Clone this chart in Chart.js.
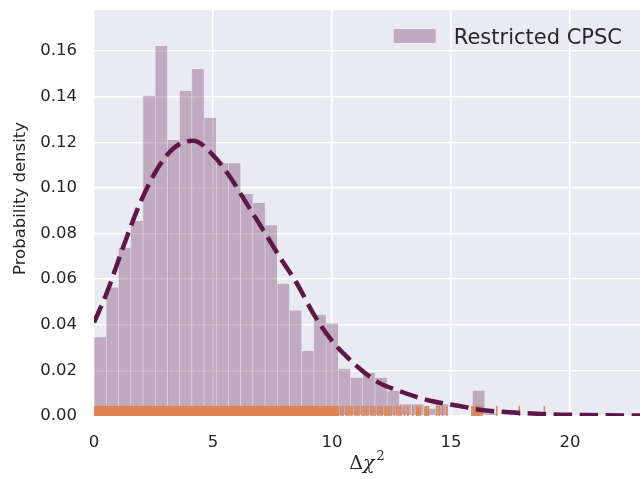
<!DOCTYPE html>
<html>
<head>
<meta charset="utf-8">
<script src="https://cdn.jsdelivr.net/npm/chart.js@4.4.1/dist/chart.umd.min.js"></script>
<style>
  html, body { margin: 0; padding: 0; background: #fff; }
  #wrap { width: 644px; height: 479px; }
</style>
</head>
<body>
<div id="wrap"><canvas id="chart" width="644" height="479"></canvas></div>
<script>
// histogram of delta chi^2 (density), bins start at 0
const binWidth = 0.5128;
const histDensity = [
  0.0345, 0.0563, 0.0738, 0.0855, 0.1404, 0.1622, 0.1210, 0.1425, 0.1521, 0.1306,
  0.1108, 0.1108, 0.0973, 0.0934, 0.0836, 0.0580, 0.0463, 0.0285, 0.0444, 0.0405,
  0.0207, 0.0168, 0.0190, 0.0168, 0.0111, 0.0051, 0.0051, 0.0032, 0.0051, 0,
  0, 0.0111, 0.0012, 0, 0.0012, 0, 0.0012, 0, 0, 0,
  0, 0, 0, 0, 0
];

// kde curve
const kdeX = [0, 0.53, 1.23, 1.93, 2.63, 3.33, 4.17, 5.0, 5.71, 6.41, 7.11, 7.8, 8.52, 9.21, 9.92,
  10.62, 11.32, 12.02, 12.72, 13.42, 14.12, 14.82, 15.66, 15.94, 17.06, 18.18, 19.23, 20.35, 21.5, 22.94];
const kdeY = [0.041, 0.0538, 0.0742, 0.0932, 0.1078, 0.1173, 0.1207, 0.1144, 0.1049, 0.0932, 0.0815, 0.0698, 0.0582, 0.045, 0.034,
  0.026, 0.0194, 0.0143, 0.0114, 0.0088, 0.0067, 0.0053, 0.0038, 0.0031, 0.0019, 0.0012, 0.0007, 0.0005, 0.0003, 0.0002];

// rug: solid band where samples are dense, single ticks after it
const rugBand = [0, 10.3];
const rugX = [10.38, 10.46, 10.59, 10.67, 10.76, 10.84, 10.97, 11.05, 11.13, 11.26, 11.34, 11.43, 11.51,
  11.64, 11.72, 11.81, 11.93, 12.02, 12.10, 12.23, 12.31, 12.39, 12.48, 12.61, 12.73, 12.82, 12.90, 13.05,
  13.19, 13.39, 13.56, 13.62, 13.70, 13.91, 13.98, 14.05, 14.40, 14.51, 14.65, 14.82,
  15.88, 15.93, 15.97, 16.00, 16.05, 16.09, 16.13, 16.17, 16.22, 16.30, 16.92, 17.87, 18.92];
const rugHeight = 0.0044;

const xTicks = [0, 5, 10, 15, 20];
const yTicks = [0, 0.02, 0.04, 0.06, 0.08, 0.10, 0.12, 0.14, 0.16];
const seriesLabel = 'Restricted CPSC';
const yTitle = 'Probability density';

const purple = 'rgb(94,23,72)';
const barFill = 'rgba(94,23,72,0.3)';
const rugColor = '#dd8452';
const textColor = '#262626';

const histData = histDensity.map((v, i) => ({ x: (i + 0.5) * binWidth, y: v }));
const kdeData = kdeX.map((x, i) => ({ x: x, y: kdeY[i] }));

const bgPlugin = {
  id: 'bg',
  beforeDraw(chart) {
    const a = chart.chartArea, ctx = chart.ctx;
    ctx.save();
    ctx.fillStyle = '#eaeaf2';
    ctx.fillRect(a.left, a.top, a.right - a.left, a.bottom - a.top);
    ctx.restore();
  }
};

// axis labels with math styling, and the legend entry
const textPlugin = {
  id: 'texts',
  afterDraw(chart) {
    const a = chart.chartArea, ctx = chart.ctx;
    ctx.save();
    ctx.fillStyle = textColor;
    ctx.textBaseline = 'alphabetic';
    const f1 = '19px "DejaVu Serif"', f2 = 'italic 19px "DejaVu Serif"', f3 = '13px "DejaVu Serif"';
    ctx.font = f1; const w1 = ctx.measureText('Δ').width;
    ctx.font = f2; const w2 = ctx.measureText('χ').width;
    ctx.font = f3; const w3 = ctx.measureText('2').width;
    let x = (a.left + a.right) / 2 - (w1 + w2 + w3 + 2) / 2;
    const by = 469;
    ctx.font = f1; ctx.fillText('Δ', x, by); x += w1;
    ctx.font = f2; ctx.fillText('χ', x, by); x += w2 + 2;
    ctx.font = f3; ctx.fillText('2', x, by - 9);

    // y title
    ctx.save();
    ctx.translate(21, 198.5);
    ctx.rotate(-Math.PI / 2);
    ctx.textAlign = 'center';
    ctx.textBaseline = 'middle';
    ctx.font = '16.5px "DejaVu Sans"';
    ctx.fillText(yTitle, 0, 0);
    ctx.restore();

    // legend
    ctx.font = '21px "DejaVu Sans"';
    const tw = ctx.measureText(seriesLabel).width;
    const tx = a.right - 18 - tw;
    ctx.fillText(seriesLabel, tx, a.top + 33.5);
    ctx.fillStyle = barFill;
    ctx.fillRect(tx - 18 - 42, a.top + 19, 42, 14);
    ctx.restore();
  }
};

new Chart(document.getElementById('chart'), {
  type: 'bar',
  data: {
    datasets: [
      {
        type: 'line',
        label: 'kde',
        data: kdeData,
        borderColor: purple,
        borderWidth: 4.5,
        borderDash: [18.5, 7.5],
        pointRadius: 0,
        fill: false,
        cubicInterpolationMode: 'monotone',
        order: 0
      },
      {
        type: 'scatter',
        label: 'rug',
        data: rugX.map(v => ({ x: v, y: rugHeight / 2 })),
        pointStyle: 'line',
        rotation: 90,
        radius: 5,
        borderColor: rugColor,
        borderWidth: 1.5,
        order: 1
      },
      {
        type: 'line',
        label: 'rugband',
        data: [{ x: rugBand[0], y: rugHeight }, { x: rugBand[1], y: rugHeight }],
        borderWidth: 0,
        pointRadius: 0,
        backgroundColor: rugColor,
        fill: 'origin',
        order: 1
      },
      {
        label: seriesLabel,
        data: histData,
        backgroundColor: barFill,
        borderColor: 'rgba(220,205,220,0.6)',
        borderWidth: { left: 1, right: 0, top: 0, bottom: 0 },
        borderSkipped: false,
        barPercentage: 1,
        categoryPercentage: 1,
        order: 2
      }
    ]
  },
  options: {
    responsive: false,
    animation: false,
    layout: { autoPadding: false, padding: { left: 0, right: 4, top: 0, bottom: 0 } },
    plugins: {
      legend: { display: false },
      tooltip: { enabled: false }
    },
    scales: {
      x: {
        type: 'linear',
        min: 0,
        max: 22.94,
        offset: false,
        afterFit(s) { s.height = 63; },
        afterBuildTicks(s) { s.ticks = xTicks.map(v => ({ value: v })); },
        grid: { color: '#ffffff', lineWidth: 1.5, drawTicks: false, offset: false },
        border: { display: false },
        ticks: { color: textColor, padding: 17, font: { family: 'DejaVu Sans', size: 16.5 }, maxRotation: 0 }
      },
      y: {
        min: 0,
        max: 0.178,
        afterFit(s) { s.width = 94; s.paddingTop = 10; },
        afterBuildTicks(s) { s.ticks = yTicks.map(v => ({ value: v })); },
        grid: { color: '#ffffff', lineWidth: 1.5, drawTicks: false },
        border: { display: false },
        ticks: {
          color: textColor, padding: 17, font: { family: 'DejaVu Sans', size: 16.5 },
          callback: v => v.toFixed(2)
        }
      }
    }
  },
  plugins: [bgPlugin, textPlugin]
});
</script>
</body>
</html>
